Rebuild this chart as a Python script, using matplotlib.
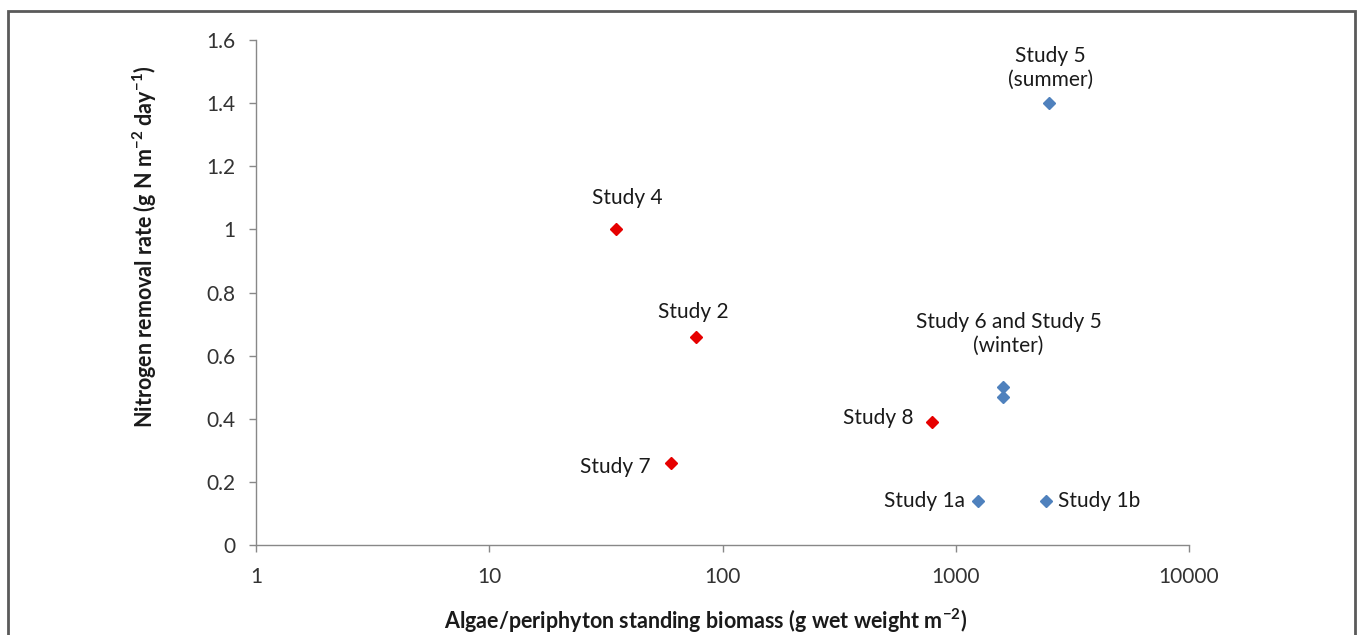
import matplotlib
matplotlib.use("Agg")
import matplotlib.pyplot as plt
from matplotlib.ticker import FixedLocator, FuncFormatter, NullLocator
from matplotlib.patches import Rectangle

plt.rcParams['font.family'] = ['Lato', 'DejaVu Sans']
plt.rcParams['mathtext.fontset'] = 'custom'
plt.rcParams['mathtext.rm'] = 'Lato'
plt.rcParams['mathtext.bf'] = 'Lato:bold'

# Studies plotted in red
red_names = ["Study 4", "Study 2", "Study 7", "Study 8"]
red_biomass = [35, 77, 60, 790]
red_rate = [1.00, 0.66, 0.26, 0.39]

# Studies plotted in blue
blue_names = ["Study 5\n(summer)", "Study 6 and Study 5\n(winter)", "", "Study 1a", "Study 1b"]
blue_biomass = [2500, 1600, 1600, 1245, 2440]
blue_rate = [1.40, 0.50, 0.47, 0.14, 0.14]

x_ticks = [1, 10, 100, 1000, 10000]
y_ticks = [0, 0.2, 0.4, 0.6, 0.8, 1.0, 1.2, 1.4, 1.6]

RED = "#E60000"
BLUE = "#4F81BD"
AXIS = "#888888"
TEXT = "#1a1a1a"
FS = 15

fig = plt.figure(figsize=(13.57, 6.35), dpi=100)
ax = fig.add_axes([0.1887, 0.1417, 0.8762 - 0.1887, 0.937 - 0.1417])

ax.plot(red_biomass, red_rate, linestyle="none", marker="D", ms=6.5,
        color=RED, mec=RED)
ax.plot(blue_biomass, blue_rate, linestyle="none", marker="D", ms=6.5,
        color=BLUE, mec=BLUE)

ax.set_xscale("log")
ax.set_xlim(1, 10000)
ax.set_ylim(0, 1.6)
ax.xaxis.set_major_locator(FixedLocator(x_ticks))
ax.xaxis.set_minor_locator(NullLocator())
ax.xaxis.set_major_formatter(FuncFormatter(lambda v, p: f"{v:g}"))
ax.yaxis.set_major_locator(FixedLocator(y_ticks))
ax.yaxis.set_major_formatter(FuncFormatter(lambda v, p: f"{v:g}"))

for s in ["top", "right"]:
    ax.spines[s].set_visible(False)
for s in ["left", "bottom"]:
    ax.spines[s].set_color(AXIS)
    ax.spines[s].set_linewidth(1.0)
ax.tick_params(axis="both", direction="out", length=5, width=1.0,
               color=AXIS, labelsize=15, labelcolor="#333333")
ax.tick_params(axis="y", pad=10)
ax.tick_params(axis="x", pad=11)

ax.set_xlabel("Algae/periphyton standing biomass (g wet weight m$^{\\mathbf{-2}}$)",
              fontsize=15.5, fontweight="bold", color=TEXT, va="center")
ax.xaxis.set_label_coords(0.482, -0.150)
ax.set_ylabel("Nitrogen removal rate (g N m$^{\\mathbf{-2}}$ day$^{\\mathbf{-1}}$)",
              fontsize=15.5, fontweight="bold", color=TEXT, va="center")
ax.yaxis.set_label_coords(-0.119, 0.59)

# Point labels: (text, x, y, pixel offset to label anchor, alignment)
label_specs = [
    (red_names[0], red_biomass[0], red_rate[0], (11, 31), "center"),
    (red_names[1], red_biomass[1], red_rate[1], (-3, 25), "center"),
    (red_names[2], red_biomass[2], red_rate[2], (-20, -4), "right"),
    (red_names[3], red_biomass[3], red_rate[3], (-18, 4), "right"),
    (blue_names[0], blue_biomass[0], blue_rate[0], (2, 35), "center"),
    (blue_names[1], blue_biomass[1], blue_rate[1], (5, 53), "center"),
    (blue_names[3], blue_biomass[3], blue_rate[3], (-13, 0), "right"),
    (blue_names[4], blue_biomass[4], blue_rate[4], (12, 0), "left"),
]
for text, x, y, off, ha in label_specs:
    ax.annotate(text, (x, y), xytext=off, textcoords="offset pixels",
                ha=ha, va="center", fontsize=FS, color=TEXT, linespacing=1.25,
                multialignment="center")

# Figure frame
fig.patches.append(Rectangle((8 / 1357, -0.01), (1355 - 8) / 1357, 1 - 11 / 635 + 0.01,
                             transform=fig.transFigure, fill=False,
                             edgecolor="#5a5a5a", linewidth=2))

fig.savefig("out.png", dpi=100, facecolor="white")
